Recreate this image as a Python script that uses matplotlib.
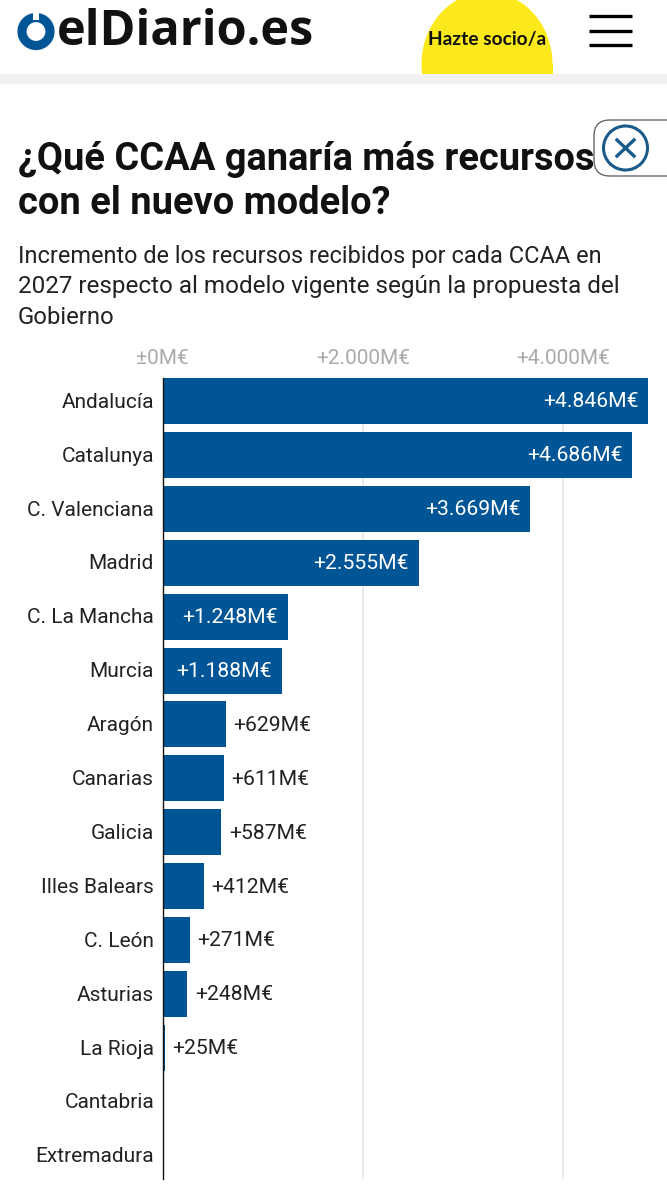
import matplotlib
matplotlib.use('Agg')
import matplotlib.pyplot as plt
from matplotlib.patches import Rectangle, Ellipse, Circle, FancyBboxPatch

plt.rcParams['font.family'] = ['Roboto', 'DejaVu Sans']

regions = ['Andalucía', 'Catalunya', 'C. Valenciana', 'Madrid', 'C. La Mancha', 'Murcia', 'Aragón',
           'Canarias', 'Galicia', 'Illes Balears', 'C. León', 'Asturias', 'La Rioja', 'Cantabria', 'Extremadura']
values = [4846, 4686, 3669, 2555, 1248, 1188, 629, 611, 587, 412, 271, 248, 25, 0, 0]
labels = ['+4.846M€', '+4.686M€', '+3.669M€', '+2.555M€', '+1.248M€', '+1.188M€', '+629M€', '+611M€',
          '+587M€', '+412M€', '+271M€', '+248M€', '+25M€', '', '']
ticks = [0, 2000, 4000]
tick_labels = ['±0M€', '+2.000M€', '+4.000M€']
title_lines = ['¿Qué CCAA ganaría más recursos', 'con el nuevo modelo?']
subtitle_lines = ['Incremento de los recursos recibidos por cada CCAA en',
                  '2027 respecto al modelo vigente según la propuesta del', 'Gobierno']

W, H = 667, 1200
BLUE = '#005596'
PT = 0.72
STEP = 53.9
fig = plt.figure(figsize=(W / 100, H / 100), dpi=100, facecolor='white')

# page overlay in pixel coordinates
bg = fig.add_axes([0, 0, 1, 1])
bg.set_xlim(0, W); bg.set_ylim(H, 0); bg.axis('off')
clip = Rectangle((0, 0), W, 74, transform=bg.transData)
e = Ellipse((487, 64), 131, 144, color='#fbe91c', lw=0)
bg.add_patch(e); e.set_clip_path(clip)
bg.add_patch(Rectangle((421.5, 64), 131, 10, color='#fbe91c', lw=0))
bg.add_patch(Rectangle((0, 74), W, 10, color='#f3f0f1', lw=0))
bg.text(487, 39.5, 'Hazte socio/a', ha='center', va='center', fontsize=13.8, color='#111111',
        fontweight='bold', family=['Lato', 'DejaVu Sans'])
for y in (16, 30.5, 45):
    bg.plot([589, 632], [y, y], color='black', lw=2.4, solid_capstyle='butt')
bg.add_patch(Ellipse((36, 31.5), 28, 28, fc='none', ec=BLUE, lw=6.6))
bg.add_patch(Rectangle((33, 11), 6, 9, color='white', lw=0))
bg.text(57, 32.5, 'elDiario.es', ha='left', va='center', fontsize=35, fontweight='bold', color='#111111',
        family=['Open Sans', 'DejaVu Sans'])

for y, line in zip((159, 203), title_lines):
    bg.text(17.5, y, line, ha='left', va='center', fontsize=27.4, fontweight='bold', color='#111111')
for y, size, line in zip((256, 286, 317), (16.95, 17.45, 17.2), subtitle_lines):
    bg.text(17.5, y, line, ha='left', va='center', fontsize=size, color='#222222')

bg.add_patch(FancyBboxPatch((594, 120), 90, 56, boxstyle='round,pad=0,rounding_size=16', fc='white', ec='#666666', lw=1))
bg.add_patch(Circle((625.5, 148), 22, fc='none', ec='#1a5a8a', lw=2.2))
bg.plot([617, 634], [140, 156], color='#1a5a8a', lw=2.4)
bg.plot([617, 634], [156, 140], color='#1a5a8a', lw=2.4)

# chart
left, right, top, bottom = 162.5, 667, 378, 1179
ax = fig.add_axes([left / W, 1 - bottom / H, (right - left) / W, (bottom - top) / H])
ax.patch.set_alpha(0)
ax.set_xlim(0, (right - left) / 0.1002)
ax.set_ylim((bottom - 401) / STEP, (top - 401) / STEP)
ax.barh(range(len(regions)), values, height=46 / STEP, color=BLUE, zorder=3)
ax.set_axisbelow(True)
ax.set_xticks(ticks[1:])
ax.grid(axis='x', color='#e8e8e8', lw=1.2)
ax.tick_params(length=0)
ax.set_xticklabels([])
ax.set_yticks(range(len(regions)))
ax.set_yticklabels([])
for i, r in enumerate(regions):
    ax.annotate(r, (0, i), xytext=(-8.5 * PT, -0.9), textcoords='offset points', ha='right', va='center',
                fontsize=15, color='#222222', annotation_clip=False)
for s in ('top', 'right', 'bottom'):
    ax.spines[s].set_visible(False)
ax.spines['left'].set_color('#111111')
ax.spines['left'].set_linewidth(1.0)
ax.spines['left'].set_zorder(4)
for t, tl in zip(ticks, tick_labels):
    ax.annotate(tl, (t, 1), xycoords=('data', 'axes fraction'), xytext=(0, 20 * PT), textcoords='offset points',
                ha='center', va='center', fontsize=15, color='#aaaaaa', annotation_clip=False)
for i, (v, lab) in enumerate(zip(values, labels)):
    if not lab:
        continue
    if v > 1000:
        ax.annotate(lab, (v, i), xytext=(-6.8, -0.7), textcoords='offset points', ha='right', va='center',
                    fontsize=15.2, color='white', zorder=5)
    else:
        ax.annotate(lab, (v, i), xytext=(5.5, -0.7), textcoords='offset points', ha='left', va='center',
                    fontsize=15.2, color='#222222', zorder=5)

fig.savefig('out.png', dpi=100)
